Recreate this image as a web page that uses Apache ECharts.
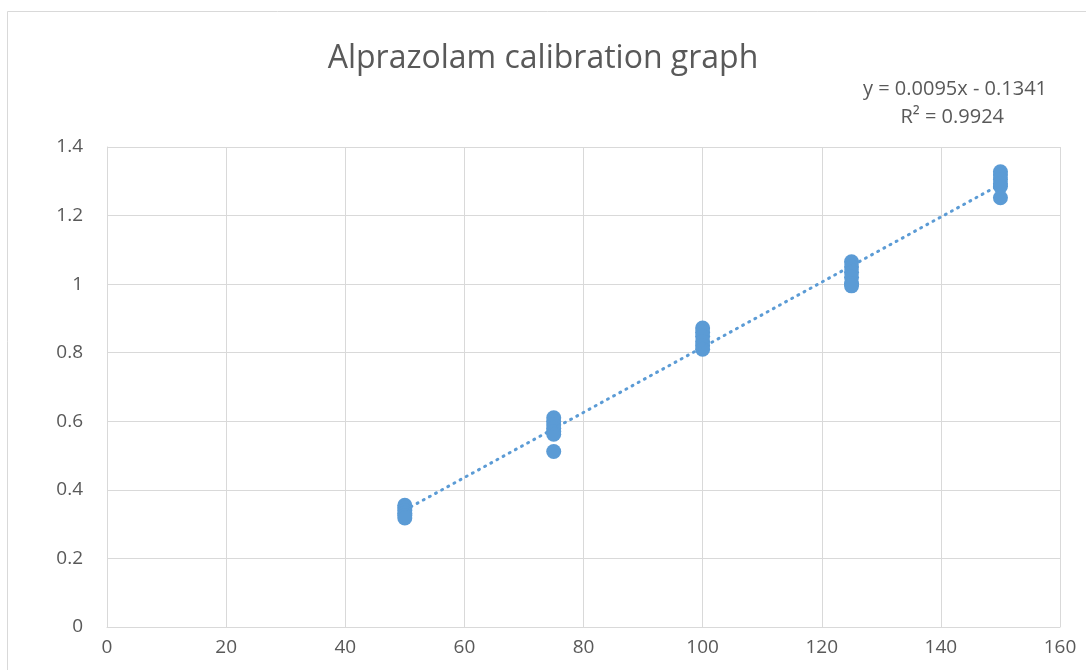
<!DOCTYPE html>
<html><head><meta charset="utf-8">
<script src="https://cdn.jsdelivr.net/npm/echarts@6/dist/echarts.min.js"></script>
<style>html,body{margin:0;padding:0;background:#fff}#c{width:1086px;height:670px}</style>
</head><body><div id="c"></div>
<script>
const title = 'Alprazolam calibration graph';
const conc50  = [0.355, 0.348, 0.340, 0.332, 0.325, 0.318];
const conc75  = [0.610, 0.600, 0.590, 0.580, 0.570, 0.562, 0.512];
const conc100 = [0.872, 0.860, 0.848, 0.832, 0.820, 0.810];
const conc125 = [1.065, 1.050, 1.035, 1.020, 1.002, 0.995];
const conc150 = [1.328, 1.318, 1.305, 1.293, 1.285, 1.252];
const xLevels = [50, 75, 100, 125, 150];
const slope = 0.0095, intercept = -0.1341;
const eqText = 'y = 0.0095x - 0.1341';
const r2Text = 'R² = 0.9924';
const xTicks = [0,20,40,60,80,100,120,140,160];
const yTicks = [0,0.2,0.4,0.6,0.8,1,1.2,1.4];

const groups = [conc50, conc75, conc100, conc125, conc150];
const pts = [];
groups.forEach((g,i)=>g.forEach(v=>pts.push([xLevels[i], v])));
const xMin = xLevels[0], xMax = xLevels[xLevels.length-1];
const trend = [[xMin, slope*xMin+intercept],[xMax, slope*xMax+intercept]];

const font = '"Open Sans", sans-serif';
const chart = echarts.init(document.getElementById('c'), null, {renderer:'canvas'});
chart.setOption({
  animation:false,
  backgroundColor:'#fff',
  title:{text:title, left:'center', top:38, textStyle:{fontFamily:font, fontSize:32, fontWeight:'normal', color:'#595959'}},
  graphic:[
    {type:'rect', shape:{x:7.5,y:11.5,width:1100,height:700}, style:{fill:'none', stroke:'#d9d9d9', lineWidth:1}, silent:true},
    {type:'text', right:39, top:79, style:{text:eqText, fontFamily:font, fontSize:20, fill:'#595959'}},
    {type:'text', right:82, top:107, style:{text:r2Text, fontFamily:font, fontSize:20, fill:'#595959'}}
  ],
  grid:{left:107, right:26, top:147, bottom:43},
  xAxis:{type:'value', min:0, max:160, interval:20,
    axisLine:{show:true, lineStyle:{color:'#d9d9d9'}}, axisTick:{show:false},
    splitLine:{show:true, lineStyle:{color:'#d9d9d9'}},
    axisLabel:{fontFamily:font, fontSize:19, color:'#595959', margin:11, formatter:v=>String(v)}},
  yAxis:{type:'value', min:0, max:1.4, interval:0.2,
    axisLine:{show:true, lineStyle:{color:'#d9d9d9'}}, axisTick:{show:false},
    splitLine:{show:true, lineStyle:{color:'#d9d9d9'}},
    axisLabel:{fontFamily:font, fontSize:19, color:'#595959', margin:24, formatter:v=>String(+v.toFixed(1))}},
  series:[
    {type:'scatter', data:pts, symbol:'circle', symbolSize:15, itemStyle:{color:'#5B9BD5', opacity:1}, z:2},
    {type:'line', data:trend, showSymbol:false, symbol:'none', lineStyle:{color:'#5B9BD5', width:3, type:[1,6], cap:'round'}, z:3}
  ]
});
</script></body></html>
